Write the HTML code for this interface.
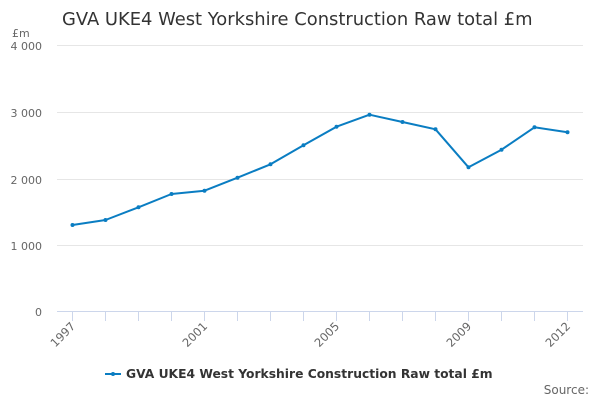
<!DOCTYPE html>
<html><head><meta charset="utf-8"><style>
html,body{margin:0;padding:0;background:#fff;width:600px;height:400px;overflow:hidden}
</style></head><body>
<svg width="600" height="400" xmlns="http://www.w3.org/2000/svg" font-family="DejaVu Sans, Liberation Sans, sans-serif">
<rect width="600" height="400" fill="#fff"/>
<text x="62" y="25" font-size="17.9" fill="#333">GVA UKE4 West Yorkshire Construction Raw total £m</text>
<text x="12" y="37" font-size="11" fill="#666">£m</text>
<g stroke="#e6e6e6" stroke-width="1">
<line x1="57" x2="583" y1="45.5" y2="45.5"/>
<line x1="57" x2="583" y1="112.5" y2="112.5"/>
<line x1="57" x2="583" y1="179.5" y2="179.5"/>
<line x1="57" x2="583" y1="245.5" y2="245.5"/>
</g>
<line x1="57" x2="583" y1="311.5" y2="311.5" stroke="#ccd6eb"/>
<g stroke="#ccd6eb">
<line x1="72.5" x2="72.5" y1="311" y2="321"/><line x1="105.5" x2="105.5" y1="311" y2="321"/><line x1="138.5" x2="138.5" y1="311" y2="321"/><line x1="171.5" x2="171.5" y1="311" y2="321"/><line x1="204.5" x2="204.5" y1="311" y2="321"/><line x1="237.5" x2="237.5" y1="311" y2="321"/><line x1="270.5" x2="270.5" y1="311" y2="321"/><line x1="303.5" x2="303.5" y1="311" y2="321"/><line x1="336.5" x2="336.5" y1="311" y2="321"/><line x1="369.5" x2="369.5" y1="311" y2="321"/><line x1="402.5" x2="402.5" y1="311" y2="321"/><line x1="435.5" x2="435.5" y1="311" y2="321"/><line x1="468.5" x2="468.5" y1="311" y2="321"/><line x1="501.5" x2="501.5" y1="311" y2="321"/><line x1="534.5" x2="534.5" y1="311" y2="321"/><line x1="567.5" x2="567.5" y1="311" y2="321"/>
</g>
<g font-size="11" fill="#666" text-anchor="end">
<text x="42" y="50">4 000</text>
<text x="42" y="117">3 000</text>
<text x="42" y="184">2 000</text>
<text x="42" y="250">1 000</text>
<text x="42" y="316">0</text>
</g>
<g font-size="11.5" fill="#666" text-anchor="end">
<text transform="translate(76,327) rotate(-45)">1997</text>
<text transform="translate(208,327) rotate(-45)">2001</text>
<text transform="translate(340,327) rotate(-45)">2005</text>
<text transform="translate(472,327) rotate(-45)">2009</text>
<text transform="translate(571,327) rotate(-45)">2012</text>
</g>
<polyline fill="none" stroke="#0a7dc2" stroke-width="2" stroke-linejoin="round" points="72.5,225 105.5,220 138.5,207.3 171.5,194 204.5,190.7 237.5,177.7 270.5,164.3 303.5,145.3 336.5,126.7 369.5,114.7 402.5,122 435.5,129.3 468.5,167.3 501.5,149.7 534.5,127.3 567.5,132.3"/>
<g fill="#0a7dc2">
<circle cx="72.5" cy="225" r="2"/><circle cx="105.5" cy="220" r="2"/><circle cx="138.5" cy="207.3" r="2"/><circle cx="171.5" cy="194" r="2"/><circle cx="204.5" cy="190.7" r="2"/><circle cx="237.5" cy="177.7" r="2"/><circle cx="270.5" cy="164.3" r="2"/><circle cx="303.5" cy="145.3" r="2"/><circle cx="336.5" cy="126.7" r="2"/><circle cx="369.5" cy="114.7" r="2"/><circle cx="402.5" cy="122" r="2"/><circle cx="435.5" cy="129.3" r="2"/><circle cx="468.5" cy="167.3" r="2"/><circle cx="501.5" cy="149.7" r="2"/><circle cx="534.5" cy="127.3" r="2"/><circle cx="567.5" cy="132.3" r="2"/>
</g>
<line x1="105" x2="121" y1="374" y2="374" stroke="#0a7dc2" stroke-width="2"/>
<circle cx="113" cy="374" r="2" fill="#0a7dc2"/>
<text x="126" y="378" font-size="12.3" font-weight="bold" fill="#333">GVA UKE4 West Yorkshire Construction Raw total £m</text>
<text x="589" y="394" font-size="12" fill="#666" text-anchor="end">Source:</text>
</svg>
</body></html>
